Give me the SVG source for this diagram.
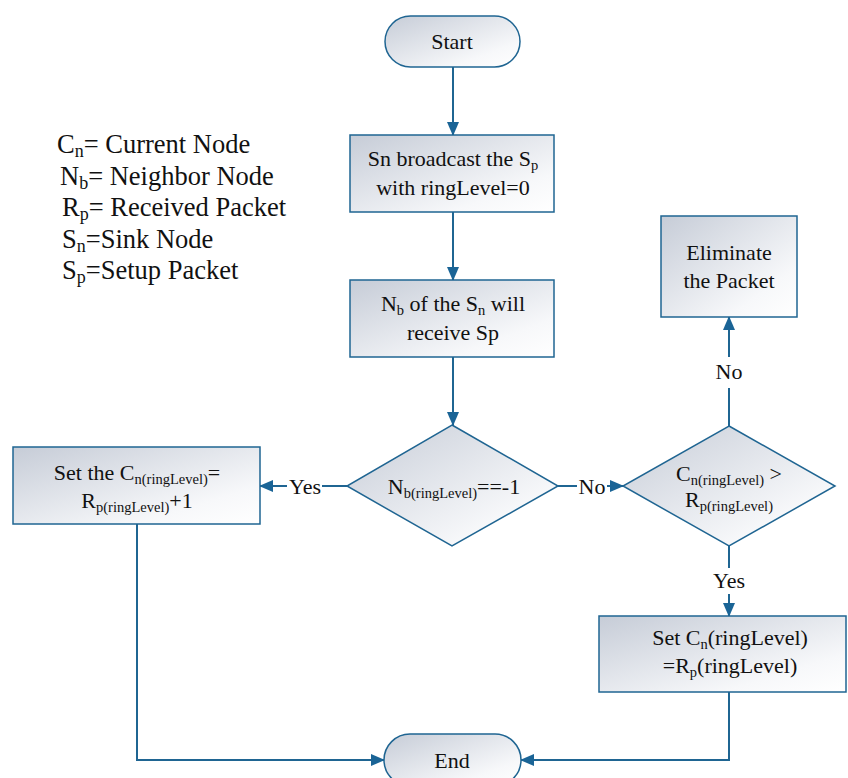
<svg xmlns="http://www.w3.org/2000/svg" width="848" height="778" viewBox="0 0 848 778" font-family="'Liberation Serif', 'Times New Roman', serif">
<defs>
<linearGradient id="g" x1="0" y1="0" x2="1" y2="1">
<stop offset="0" stop-color="#c6ccd7"/>
<stop offset="0.75" stop-color="#f7f8fa"/>
<stop offset="1" stop-color="#ffffff"/>
</linearGradient>
<marker id="ah" markerWidth="14" markerHeight="12" refX="13" refY="6" orient="auto" markerUnits="userSpaceOnUse">
<path d="M0,0 L14,6 L0,12 Z" fill="#1a6496"/>
</marker>
<style>
.n{fill:url(#g);stroke:#1f6592;stroke-width:1.5}
.c{fill:none;stroke:#1f6592;stroke-width:2}
text{font-family:'Liberation Serif','Times New Roman',serif;font-size:22px;fill:#111}
.t{text-anchor:middle}
.s{font-size:14.5px}
.lg{font-size:26.5px}
.ls{font-size:18px}
</style>
</defs>
<rect width="848" height="778" fill="#fff"/>
<g id="legend">
<text class="lg" x="57" y="153">C<tspan class="ls" dy="4">n</tspan><tspan dy="-4">= Current Node</tspan></text>
<text class="lg" x="60" y="185">N<tspan class="ls" dy="4">b</tspan><tspan dy="-4">= Neighbor Node</tspan></text>
<text class="lg" x="62" y="216">R<tspan class="ls" dy="4">p</tspan><tspan dy="-4">= Received Packet</tspan></text>
<text class="lg" x="62" y="248">S<tspan class="ls" dy="4">n</tspan><tspan dy="-4">=Sink Node</tspan></text>
<text class="lg" x="62" y="279">S<tspan class="ls" dy="4">p</tspan><tspan dy="-4">=Setup Packet</tspan></text>
</g>
<g id="connectors">
<path class="c" d="M453,66 V135" marker-end="url(#ah)"/>
<path class="c" d="M453,212 V280" marker-end="url(#ah)"/>
<path class="c" d="M453,357 V425" marker-end="url(#ah)"/>
<path class="c" d="M347,486 H322"/>
<path class="c" d="M287,486 H260" marker-end="url(#ah)"/>
<path class="c" d="M558,486 H577"/>
<path class="c" d="M607,486 H623" marker-end="url(#ah)"/>
<path class="c" d="M729,426 V388"/>
<path class="c" d="M729,357 V317" marker-end="url(#ah)"/>
<path class="c" d="M729,546 V568"/>
<path class="c" d="M729,594 V616" marker-end="url(#ah)"/>
<path class="c" d="M137,524 V760 H384" marker-end="url(#ah)"/>
<path class="c" d="M729,692 V760 H521" marker-end="url(#ah)"/>
<text class="t" x="305" y="494">Yes</text>
<text class="t" x="592" y="494">No</text>
<text class="t" x="729" y="379">No</text>
<text class="t" x="729" y="588">Yes</text>
</g>
<g id="start">
<rect class="n" x="385" y="16" width="135" height="51" rx="25.5"/>
<text class="t" x="452" y="49">Start</text>
</g>
<g id="broadcast">
<rect class="n" x="350" y="135" width="204" height="77"/>
<text class="t" x="453" y="166">Sn broadcast the S<tspan class="s" dy="4">p</tspan></text>
<text class="t" x="453" y="195">with ringLevel=0</text>
</g>
<g id="receive">
<rect class="n" x="350" y="280" width="204" height="77"/>
<text class="t" x="453" y="311">N<tspan class="s" dy="4">b</tspan><tspan dy="-4"> of the S</tspan><tspan class="s" dy="4">n</tspan><tspan dy="-4"> will</tspan></text>
<text class="t" x="453" y="340">receive Sp</text>
</g>
<g id="decision1">
<polygon class="n" points="452,425 558,486 452,546 347,486"/>
<text class="t" x="454" y="494">N<tspan class="s" dy="4">b(ringLevel)</tspan><tspan dy="-4">==-1</tspan></text>
</g>
<g id="setLeft">
<rect class="n" x="13" y="447" width="247" height="77"/>
<text class="t" x="137" y="480">Set the C<tspan class="s" dy="4">n(ringLevel)</tspan><tspan dy="-4">=</tspan></text>
<text class="t" x="137" y="508">R<tspan class="s" dy="4">p(ringLevel)</tspan><tspan dy="-4">+1</tspan></text>
</g>
<g id="decision2">
<polygon class="n" points="729,426 835,486 729,546 623,486"/>
<text class="t" x="729" y="481">C<tspan class="s" dy="4">n(ringLevel)</tspan><tspan dy="-4"> &gt;</tspan></text>
<text class="t" x="729" y="507">R<tspan class="s" dy="4">p(ringLevel)</tspan></text>
</g>
<g id="eliminate">
<rect class="n" x="661" y="216" width="136" height="101"/>
<text class="t" x="729" y="260">Eliminate</text>
<text class="t" x="729" y="288">the Packet</text>
</g>
<g id="setRight">
<rect class="n" x="599" y="616" width="247" height="76"/>
<text class="t" x="730" y="645">Set C<tspan class="s" dy="4">n</tspan><tspan dy="-4">(ringLevel)</tspan></text>
<text class="t" x="730" y="673">=R<tspan class="s" dy="4">p</tspan><tspan dy="-4">(ringLevel)</tspan></text>
</g>
<g id="end">
<rect class="n" x="384" y="734" width="137" height="52" rx="26"/>
<text class="t" x="452" y="768">End</text>
</g>
</svg>
